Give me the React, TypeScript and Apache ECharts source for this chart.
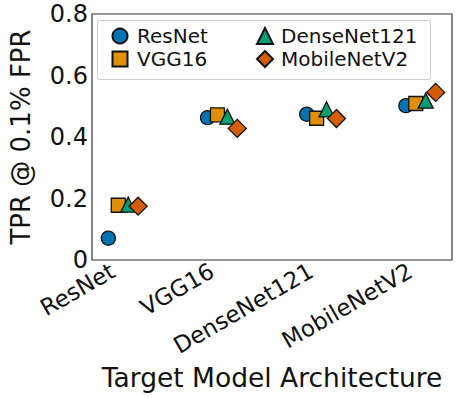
import React, { useEffect, useRef } from "react";
import * as echarts from "echarts";

const categories = ["ResNet", "VGG16", "DenseNet121", "MobileNetV2"];
const seriesNames = ["ResNet", "VGG16", "DenseNet121", "MobileNetV2"];
const resnetVals = [0.071, 0.463, 0.474, 0.502];
const vgg16Vals = [0.178, 0.472, 0.461, 0.509];
const densenetVals = [0.18, 0.466, 0.49, 0.518];
const mobilenetVals = [0.175, 0.428, 0.46, 0.545];
const yTicks = [0, 0.2, 0.4, 0.6, 0.8];

const colors = ["#0173b2", "#de8f05", "#029e73", "#d55e00"];
const symbols = ["circle", "rect", "triangle", "diamond"];
const sizes = [14, 14, 15, 18];
const offsets = [-0.15, -0.05, 0.05, 0.15];

export default function App() {
  const ref = useRef<HTMLDivElement>(null);
  useEffect(() => {
    if (!ref.current) return;
    const chart = echarts.init(ref.current, undefined, { renderer: "svg" });
    const font = "DejaVu Sans";
    const allVals = [resnetVals, vgg16Vals, densenetVals, mobilenetVals];
    const series = allVals.map((vals, si) => ({
      name: seriesNames[si],
      type: "scatter",
      symbol: symbols[si],
      symbolSize: sizes[si],
      itemStyle: { color: colors[si], borderColor: "#111", borderWidth: 1.3, opacity: 1 },
      data: vals.map((v, ci) => [ci + offsets[si], v]),
      z: 2 + si,
    }));
    const legendCommon = {
      orient: "vertical",
      top: 21,
      itemGap: 3,
      selectedMode: false,
    };
    chart.setOption({
      animation: false,
      textStyle: { fontFamily: font },
      grid: {
        left: 75,
        right: 7,
        top: 14,
        bottom: 139,
        show: true,
        borderColor: "#333",
        borderWidth: 1.2,
        containLabel: false,
      },
      legend: [
        {
          ...legendCommon,
          data: [seriesNames[0], seriesNames[1]],
          left: 106.5,
          itemWidth: 15,
          itemHeight: 15,
          textStyle: { fontSize: 20, fontFamily: font, color: "#111", lineHeight: 20, padding: [0, 0, 0, 4.5] },
        },
        {
          ...legendCommon,
          data: [seriesNames[2], seriesNames[3]],
          left: 251,
          itemWidth: 16,
          itemHeight: 16,
          textStyle: { fontSize: 20, fontFamily: font, color: "#111", lineHeight: 20, padding: [0, 0, 0, 3] },
        },
      ],
      graphic: [
        {
          type: "rect",
          shape: { x: 97.5, y: 20.5, width: 333, height: 59, r: 2 },
          style: { fill: "rgba(255,255,255,0.8)", stroke: "#cccccc", lineWidth: 1 },
          z: 0,
          silent: true,
        },
      ],
      xAxis: {
        type: "value",
        min: -0.315,
        max: 3.315,
        splitLine: { show: false },
        axisLine: { show: false },
        axisTick: { show: false },
        axisLabel: {
          customValues: [0, 1, 2, 3],
          rotate: 30,
          fontSize: 23,
          color: "#111",
          margin: 3,
          padding: [0, 12, 0, 0],
          formatter: (v: number) => categories[Math.round(v)] ?? "",
        },
        name: "Target Model Architecture",
        nameLocation: "middle",
        nameGap: 86,
        nameTextStyle: { fontSize: 26.5, color: "#111", fontFamily: font },
      },
      yAxis: {
        type: "value",
        min: 0,
        max: 0.8,
        interval: 0.2,
        splitLine: { show: false },
        axisLine: { show: false },
        axisTick: { show: false },
        axisLabel: {
          fontSize: 24,
          color: "#111",
          margin: 4,
          customValues: yTicks,
          formatter: (v: number) => (v === 0 ? "0" : v.toFixed(1)),
        },
        name: "TPR @ 0.1% FPR",
        nameLocation: "middle",
        nameGap: 58,
        nameTextStyle: { fontSize: 26, color: "#111", fontFamily: font },
      },
      series,
    });
    return () => chart.dispose();
  }, []);
  return <div ref={ref} style={{ width: 459, height: 399, position: "absolute", left: 0, top: 0 }} />;
}
